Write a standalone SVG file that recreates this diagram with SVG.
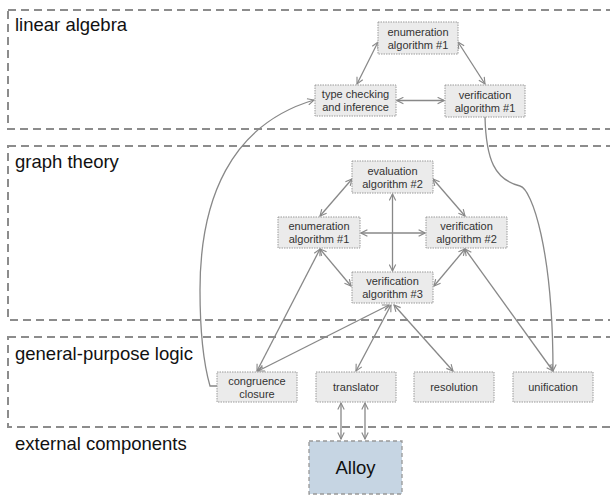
<svg xmlns="http://www.w3.org/2000/svg" width="610" height="496" viewBox="0 0 610 496">
<style>
.layer{fill:none;stroke:#8c8c8c;stroke-width:2;stroke-dasharray:8 5}
.lbl{font-family:"Liberation Sans",Arial,sans-serif;font-size:18.5px;fill:#111}
.node rect{fill:#ebebeb;stroke:#9a9a9a;stroke-width:1;stroke-dasharray:1.5 1}
.node text{font-family:"Liberation Sans",Arial,sans-serif;font-size:11px;fill:#333;text-anchor:middle}
.edge{fill:none;stroke:#888;stroke-width:1.3;marker-end:url(#ah)}
.both{marker-start:url(#ah)}
</style>
<defs>
<marker id="ah" viewBox="0 0 10 10" refX="9" refY="5" markerWidth="8" markerHeight="8" markerUnits="userSpaceOnUse" orient="auto-start-reverse">
<path d="M1,1 L9,5 L1,9" fill="none" stroke="#888" stroke-width="1.4"/>
</marker>
</defs>
<rect fill="#fff" x="0" y="0" width="610" height="496"/>
<g id="layers">
<rect class="layer" x="8" y="10" width="620" height="119"/>
<rect class="layer" x="8" y="146" width="620" height="174"/>
<rect class="layer" x="8" y="337" width="620" height="90"/>
<text class="lbl" x="15" y="31">linear algebra</text>
<text class="lbl" x="15" y="168">graph theory</text>
<text class="lbl" x="15" y="360">general-purpose logic</text>
<text class="lbl" x="15" y="450">external components</text>
</g>
<g id="connectors">
<path class="edge both" d="M378,42 L357,84"/>
<path class="edge both" d="M458,42 L485,84"/>
<path class="edge both" d="M397,100.5 L444,100.5"/>
<path class="edge both" d="M352,179 L320,216"/>
<path class="edge both" d="M433,179 L465,216"/>
<path class="edge both" d="M392.5,194 L392.5,271"/>
<path class="edge both" d="M361,233 L425,233"/>
<path class="edge both" d="M320,249 L351,286"/>
<path class="edge both" d="M465,249 L434,286"/>
<path class="edge both" d="M320,249 L257,371"/>
<path class="edge both" d="M465,249 L553,371"/>
<path class="edge" d="M485,117 C486,160 495,180 520,186 C532,189 553,250 553,371"/>
<path class="edge" d="M217,386 L210,386 C206,372 200,340 200,290 C200,200 230,125 314,100"/>
<path class="edge both" d="M389,305 L258,371"/>
<path class="edge both" d="M391,305 L356,371"/>
<path class="edge both" d="M394,305 L453,371"/>
<path class="edge both" d="M341,403 L341,439"/>
<path class="edge both" d="M365,403 L365,439"/>
</g>
<g id="la_enum" class="node"><rect x="378" y="22" width="80" height="32"/><text x="418" y="35.5">enumeration</text><text x="418" y="48.5">algorithm #1</text></g>
<g id="la_type" class="node"><rect x="315" y="85" width="81" height="31"/><text x="355.5" y="98">type checking</text><text x="355.5" y="111">and inference</text></g>
<g id="la_verif1" class="node"><rect x="445" y="85" width="80" height="32"/><text x="485" y="98.5">verification</text><text x="485" y="111.5">algorithm #1</text></g>
<g id="gt_eval" class="node"><rect x="352" y="161" width="81" height="32"/><text x="392.5" y="174.5">evaluation</text><text x="392.5" y="187.5">algorithm #2</text></g>
<g id="gt_enum" class="node"><rect x="278" y="217" width="82" height="31"/><text x="319" y="230">enumeration</text><text x="319" y="243">algorithm #1</text></g>
<g id="gt_verif2" class="node"><rect x="426" y="217" width="81" height="31"/><text x="466.5" y="230">verification</text><text x="466.5" y="243">algorithm #2</text></g>
<g id="gt_verif3" class="node"><rect x="352" y="272" width="81" height="31"/><text x="392.5" y="285">verification</text><text x="392.5" y="298">algorithm #3</text></g>
<g id="congruence" class="node"><rect x="217" y="372" width="80" height="30"/><text x="257" y="384.5">congruence</text><text x="257" y="397.5">closure</text></g>
<g id="translator" class="node"><rect x="316" y="372" width="80" height="30"/><text x="356" y="391">translator</text></g>
<g id="resolution" class="node"><rect x="414" y="372" width="80" height="30"/><text x="454" y="391">resolution</text></g>
<g id="unification" class="node"><rect x="513" y="372" width="80" height="30"/><text x="553" y="391">unification</text></g>
<g id="alloy"><rect x="309" y="441" width="93" height="53" fill="#c6d5e3" stroke="#999" stroke-width="1.3" stroke-dasharray="4 3"/><text x="355.5" y="474" font-family="Liberation Sans,Arial,sans-serif" font-size="18.5" fill="#111" text-anchor="middle">Alloy</text></g>
</svg>
